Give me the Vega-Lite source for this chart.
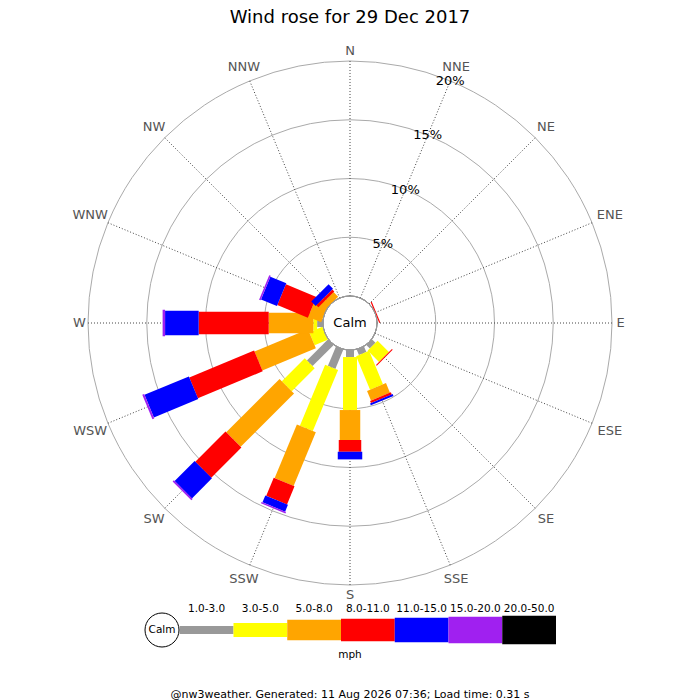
{
  "$schema": "https://vega.github.io/schema/vega-lite/v6.json",
  "padding": {"top": 8, "left": 0, "right": 0, "bottom": 0},
  "background": "white",
  "bounds": "flush",
  "spacing": 0,
  "center": true,
  "title": {"text": "Wind rose for 29 Dec 2017", "fontSize": 18, "font": "DejaVu Sans", "fontWeight": "normal", "color": "#000000", "offset": 18, "anchor": "middle"},
  "config": {"view": {"stroke": null}, "font": "DejaVu Sans"},
  "datasets": {
    "dirs": [
      {"dir": "N", "angle": 0}, {"dir": "NNE", "angle": 22.5}, {"dir": "NE", "angle": 45}, {"dir": "ENE", "angle": 67.5},
      {"dir": "E", "angle": 90}, {"dir": "ESE", "angle": 112.5}, {"dir": "SE", "angle": 135}, {"dir": "SSE", "angle": 157.5},
      {"dir": "S", "angle": 180}, {"dir": "SSW", "angle": 202.5}, {"dir": "SW", "angle": 225}, {"dir": "WSW", "angle": 247.5},
      {"dir": "W", "angle": 270}, {"dir": "WNW", "angle": 292.5}, {"dir": "NW", "angle": 315}, {"dir": "NNW", "angle": 337.5}
    ],
    "rose": [
      {"dir": "ENE", "angle": 67.5, "speed": "8.0-11.0", "lo": 8, "pct": 0.1},
      {"dir": "SE", "angle": 135, "speed": "1.0-3.0", "lo": 1, "pct": 0.43},
      {"dir": "SE", "angle": 135, "speed": "3.0-5.0", "lo": 3, "pct": 1.36},
      {"dir": "SE", "angle": 135, "speed": "8.0-11.0", "lo": 8, "pct": 0.09},
      {"dir": "SSE", "angle": 157.5, "speed": "1.0-3.0", "lo": 1, "pct": 0.51},
      {"dir": "SSE", "angle": 157.5, "speed": "3.0-5.0", "lo": 3, "pct": 3.09},
      {"dir": "SSE", "angle": 157.5, "speed": "5.0-8.0", "lo": 5, "pct": 0.88},
      {"dir": "SSE", "angle": 157.5, "speed": "8.0-11.0", "lo": 8, "pct": 0.2},
      {"dir": "SSE", "angle": 157.5, "speed": "11.0-15.0", "lo": 11, "pct": 0.17},
      {"dir": "S", "angle": 180, "speed": "1.0-3.0", "lo": 1, "pct": 0.6},
      {"dir": "S", "angle": 180, "speed": "3.0-5.0", "lo": 3, "pct": 4.51},
      {"dir": "S", "angle": 180, "speed": "5.0-8.0", "lo": 5, "pct": 2.55},
      {"dir": "S", "angle": 180, "speed": "8.0-11.0", "lo": 8, "pct": 1.0},
      {"dir": "S", "angle": 180, "speed": "11.0-15.0", "lo": 11, "pct": 0.65},
      {"dir": "SSW", "angle": 202.5, "speed": "1.0-3.0", "lo": 1, "pct": 1.79},
      {"dir": "SSW", "angle": 202.5, "speed": "3.0-5.0", "lo": 3, "pct": 5.62},
      {"dir": "SSW", "angle": 202.5, "speed": "5.0-8.0", "lo": 5, "pct": 4.94},
      {"dir": "SSW", "angle": 202.5, "speed": "8.0-11.0", "lo": 8, "pct": 1.67},
      {"dir": "SSW", "angle": 202.5, "speed": "11.0-15.0", "lo": 11, "pct": 0.63},
      {"dir": "SSW", "angle": 202.5, "speed": "15.0-20.0", "lo": 15, "pct": 0.13},
      {"dir": "SW", "angle": 225, "speed": "1.0-3.0", "lo": 1, "pct": 2.55},
      {"dir": "SW", "angle": 225, "speed": "3.0-5.0", "lo": 3, "pct": 2.76},
      {"dir": "SW", "angle": 225, "speed": "5.0-8.0", "lo": 5, "pct": 6.42},
      {"dir": "SW", "angle": 225, "speed": "8.0-11.0", "lo": 8, "pct": 3.63},
      {"dir": "SW", "angle": 225, "speed": "11.0-15.0", "lo": 11, "pct": 2.41},
      {"dir": "SW", "angle": 225, "speed": "15.0-20.0", "lo": 15, "pct": 0.15},
      {"dir": "WSW", "angle": 247.5, "speed": "3.0-5.0", "lo": 3, "pct": 1.21},
      {"dir": "WSW", "angle": 247.5, "speed": "5.0-8.0", "lo": 5, "pct": 4.93},
      {"dir": "WSW", "angle": 247.5, "speed": "8.0-11.0", "lo": 8, "pct": 5.97},
      {"dir": "WSW", "angle": 247.5, "speed": "11.0-15.0", "lo": 11, "pct": 4.09},
      {"dir": "WSW", "angle": 247.5, "speed": "15.0-20.0", "lo": 15, "pct": 0.17},
      {"dir": "W", "angle": 270, "speed": "1.0-3.0", "lo": 1, "pct": 0.5},
      {"dir": "W", "angle": 270, "speed": "3.0-5.0", "lo": 3, "pct": 0.32},
      {"dir": "W", "angle": 270, "speed": "5.0-8.0", "lo": 5, "pct": 3.8},
      {"dir": "W", "angle": 270, "speed": "8.0-11.0", "lo": 8, "pct": 5.96},
      {"dir": "W", "angle": 270, "speed": "11.0-15.0", "lo": 11, "pct": 2.86},
      {"dir": "W", "angle": 270, "speed": "15.0-20.0", "lo": 15, "pct": 0.21},
      {"dir": "WNW", "angle": 292.5, "speed": "5.0-8.0", "lo": 5, "pct": 1.19},
      {"dir": "WNW", "angle": 292.5, "speed": "8.0-11.0", "lo": 8, "pct": 2.81},
      {"dir": "WNW", "angle": 292.5, "speed": "11.0-15.0", "lo": 11, "pct": 1.47},
      {"dir": "WNW", "angle": 292.5, "speed": "15.0-20.0", "lo": 15, "pct": 0.14},
      {"dir": "NW", "angle": 315, "speed": "5.0-8.0", "lo": 5, "pct": 0.55},
      {"dir": "NW", "angle": 315, "speed": "8.0-11.0", "lo": 8, "pct": 0.24},
      {"dir": "NW", "angle": 315, "speed": "11.0-15.0", "lo": 11, "pct": 0.53}
    ],
    "classes": [
      {"speed": "1.0-3.0", "lo": 1}, {"speed": "3.0-5.0", "lo": 3}, {"speed": "5.0-8.0", "lo": 5},
      {"speed": "8.0-11.0", "lo": 8}, {"speed": "11.0-15.0", "lo": 11}, {"speed": "15.0-20.0", "lo": 15},
      {"speed": "20.0-50.0", "lo": 20}
    ]
  },
  "vconcat": [
    {
      "width": 700,
      "height": 556,
      "layer": [
        {
          "data": {"values": [{"pct": 5}, {"pct": 10}, {"pct": 15}, {"pct": 20}]},
          "mark": {"type": "arc", "filled": false, "stroke": "#aaaaaa", "strokeWidth": 1, "theta": 0, "theta2": 6.2832},
          "encoding": {
            "x": {"datum": 0, "type": "quantitative", "scale": {"domain": [-29.787, 29.787], "nice": false, "zero": false}, "axis": null},
            "y": {"datum": 0, "type": "quantitative", "scale": {"domain": [-23.66, 23.66], "nice": false, "zero": false}, "axis": null},
            "radius": {"field": "pct", "type": "quantitative", "stack": null, "scale": {"type": "linear", "domain": [0, 20], "range": [27, 262], "zero": false}}
          }
        },
        {
          "data": {"name": "dirs"},
          "transform": [
            {"calculate": "2.298*sin(datum.angle*PI/180)", "as": "xa"},
            {"calculate": "2.298*cos(datum.angle*PI/180)", "as": "ya"},
            {"calculate": "22.298*sin(datum.angle*PI/180)", "as": "xb"},
            {"calculate": "22.298*cos(datum.angle*PI/180)", "as": "yb"}
          ],
          "mark": {"type": "rule", "stroke": "#444444", "strokeWidth": 1, "strokeDash": [1, 2]},
          "encoding": {
            "x": {"field": "xa", "type": "quantitative", "scale": {"domain": [-29.787, 29.787], "nice": false, "zero": false}, "axis": null},
            "y": {"field": "ya", "type": "quantitative", "scale": {"domain": [-23.66, 23.66], "nice": false, "zero": false}, "axis": null},
            "x2": {"field": "xb"},
            "y2": {"field": "yb"}
          }
        },
        {
          "data": {"name": "rose"},
          "transform": [
            {"stack": "pct", "groupby": ["dir"], "sort": [{"field": "lo", "order": "ascending"}], "as": ["p0", "p1"]},
            {"calculate": "(datum.p0+2.298)*sin(datum.angle*PI/180)", "as": "xa"},
            {"calculate": "(datum.p0+2.298)*cos(datum.angle*PI/180)", "as": "ya"},
            {"calculate": "(datum.p1+2.298)*sin(datum.angle*PI/180)", "as": "xb"},
            {"calculate": "(datum.p1+2.298)*cos(datum.angle*PI/180)", "as": "yb"}
          ],
          "mark": {"type": "rule", "strokeCap": "butt"},
          "encoding": {
            "x": {"field": "xa", "type": "quantitative", "scale": {"domain": [-29.787, 29.787], "nice": false, "zero": false}, "axis": null},
            "y": {"field": "ya", "type": "quantitative", "scale": {"domain": [-23.66, 23.66], "nice": false, "zero": false}, "axis": null},
            "x2": {"field": "xb"},
            "y2": {"field": "yb"},
            "color": {"field": "speed", "type": "nominal", "legend": null, "scale": {"domain": ["1.0-3.0", "3.0-5.0", "5.0-8.0", "8.0-11.0", "11.0-15.0", "15.0-20.0", "20.0-50.0"], "range": ["#999999", "#ffff00", "#ffa500", "#ff0000", "#0000ff", "#a020f0", "#000000"]}},
            "strokeWidth": {"field": "speed", "type": "ordinal", "legend": null, "scale": {"type": "ordinal", "domain": ["1.0-3.0", "3.0-5.0", "5.0-8.0", "8.0-11.0", "11.0-15.0", "15.0-20.0", "20.0-50.0"], "range": [8, 14, 20.5, 22.5, 24.5, 26.5, 28.5]}}
          }
        },
        {
          "data": {"values": [{"label": "Calm"}]},
          "mark": {"type": "arc", "fill": "#ffffff", "stroke": "#999999", "strokeWidth": 1, "theta": 0, "theta2": 6.2832},
          "encoding": {
            "x": {"datum": 0, "type": "quantitative", "scale": {"domain": [-29.787, 29.787], "nice": false, "zero": false}, "axis": null},
            "y": {"datum": 0, "type": "quantitative", "scale": {"domain": [-23.66, 23.66], "nice": false, "zero": false}, "axis": null},
            "radius": {"datum": 0, "type": "quantitative", "stack": null, "scale": {"type": "linear", "domain": [0, 20], "range": [27, 262], "zero": false}}
          }
        },
        {
          "data": {"values": [{"label": "Calm"}]},
          "mark": {"type": "text", "fontSize": 13, "color": "#000000"},
          "encoding": {
            "x": {"datum": 0, "type": "quantitative", "scale": {"domain": [-29.787, 29.787], "nice": false, "zero": false}, "axis": null},
            "y": {"datum": 0, "type": "quantitative", "scale": {"domain": [-23.66, 23.66], "nice": false, "zero": false}, "axis": null},
            "text": {"field": "label"}
          }
        },
        {
          "data": {"values": [{"pct": 5, "label": "5%"}, {"pct": 10, "label": "10%"}, {"pct": 15, "label": "15%"}, {"pct": 20, "label": "20%"}]},
          "transform": [
            {"calculate": "(datum.pct+2.298)*sin(PI/8)", "as": "xl"},
            {"calculate": "(datum.pct+2.298)*cos(PI/8)", "as": "yl"}
          ],
          "mark": {"type": "text", "fontSize": 13, "color": "#000000"},
          "encoding": {
            "x": {"field": "xl", "type": "quantitative", "scale": {"domain": [-29.787, 29.787], "nice": false, "zero": false}, "axis": null},
            "y": {"field": "yl", "type": "quantitative", "scale": {"domain": [-23.66, 23.66], "nice": false, "zero": false}, "axis": null},
            "text": {"field": "label"}
          }
        },
        {
          "data": {"name": "dirs"},
          "transform": [
            {"calculate": "(266 + 6.5*abs(cos(datum.angle*PI/180)) + 4.6*length(datum.dir)*abs(sin(datum.angle*PI/180)))/11.75", "as": "rl"},
            {"calculate": "datum.rl*sin(datum.angle*PI/180)", "as": "xl"},
            {"calculate": "datum.rl*cos(datum.angle*PI/180)", "as": "yl"}
          ],
          "mark": {"type": "text", "fontSize": 13, "color": "#555555"},
          "encoding": {
            "x": {"field": "xl", "type": "quantitative", "scale": {"domain": [-29.787, 29.787], "nice": false, "zero": false}, "axis": null},
            "y": {"field": "yl", "type": "quantitative", "scale": {"domain": [-23.66, 23.66], "nice": false, "zero": false}, "axis": null},
            "text": {"field": "dir"}
          }
        }
      ]
    },
    {
      "width": 520,
      "height": 58,
      "title": {"text": "@nw3weather. Generated: 11 Aug 2026 07:36; Load time: 0.31 s", "orient": "bottom", "offset": 28, "fontSize": 11, "fontWeight": "normal", "color": "#000000", "anchor": "middle"},
      "layer": [
        {
          "data": {"name": "classes"},
          "mark": {"type": "rule", "strokeCap": "butt"},
          "encoding": {
            "x": {"field": "speed", "type": "ordinal", "bandPosition": 0, "axis": null, "scale": {"type": "band", "domain": ["Calm", "1.0-3.0", "3.0-5.0", "5.0-8.0", "8.0-11.0", "11.0-15.0", "15.0-20.0", "20.0-50.0"], "paddingInner": 0, "paddingOuter": 0.8372, "align": 0.4}},
            "x2": {"field": "speed", "bandPosition": 1},
            "color": {"field": "speed", "type": "nominal", "legend": null, "scale": {"domain": ["1.0-3.0", "3.0-5.0", "5.0-8.0", "8.0-11.0", "11.0-15.0", "15.0-20.0", "20.0-50.0"], "range": ["#999999", "#ffff00", "#ffa500", "#ff0000", "#0000ff", "#a020f0", "#000000"]}},
            "strokeWidth": {"field": "speed", "type": "ordinal", "legend": null, "scale": {"type": "ordinal", "domain": ["1.0-3.0", "3.0-5.0", "5.0-8.0", "8.0-11.0", "11.0-15.0", "15.0-20.0", "20.0-50.0"], "range": [8, 14, 20.5, 22.5, 24.5, 26.5, 28.5]}}
          }
        },
        {
          "data": {"name": "classes"},
          "mark": {"type": "text", "fontSize": 10.5, "color": "#000000", "dy": -21},
          "encoding": {
            "x": {"field": "speed", "type": "ordinal", "bandPosition": 0.5, "axis": null},
            "text": {"field": "speed"}
          }
        },
        {
          "data": {"values": [{"speed": "Calm"}]},
          "mark": {"type": "point", "shape": "circle", "size": 1156, "fill": "#ffffff", "stroke": "#000000", "strokeWidth": 1, "opacity": 1},
          "encoding": {
            "x": {"field": "speed", "type": "ordinal", "bandPosition": 0.67, "axis": null}
          }
        },
        {
          "data": {"values": [{"speed": "Calm"}]},
          "mark": {"type": "text", "fontSize": 10.5, "color": "#000000"},
          "encoding": {
            "x": {"field": "speed", "type": "ordinal", "bandPosition": 0.67, "axis": null},
            "text": {"field": "speed"}
          }
        },
        {
          "data": {"values": [{"unit": "mph"}]},
          "mark": {"type": "text", "fontSize": 10.5, "color": "#000000", "dy": 25},
          "encoding": {
            "text": {"field": "unit"}
          }
        }
      ]
    }
  ]
}
